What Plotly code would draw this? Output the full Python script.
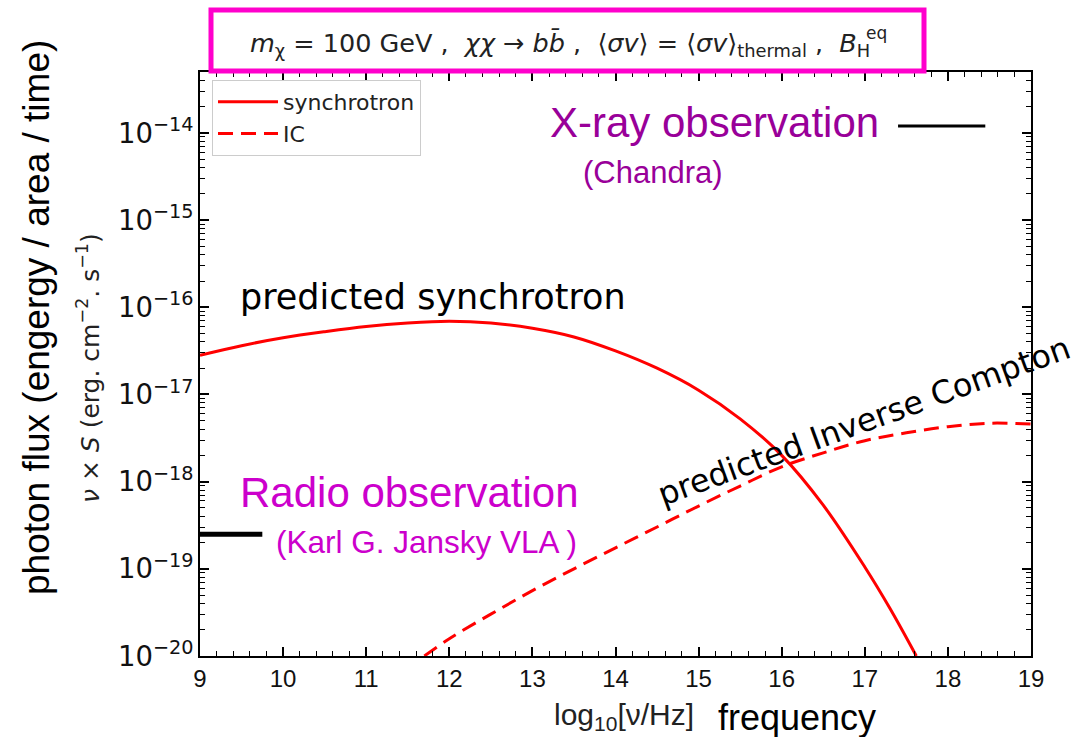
import plotly.graph_objects as go

# log10(nu / Hz) sampling of the predicted spectra
sync_lognu = [9.0, 9.5, 10.0, 10.5, 11.0, 11.5, 12.0, 12.5, 13.0, 13.5, 14.0,
              14.5, 15.0, 15.5, 16.0, 16.5, 17.0, 17.3, 17.62]
sync_flux = [2.82e-17, 3.63e-17, 4.47e-17, 5.25e-17, 6.03e-17, 6.61e-17, 6.92e-17,
             6.61e-17, 5.75e-17, 4.57e-17, 3.16e-17, 2.00e-17, 1.12e-17, 5.25e-18,
             2.00e-18, 5.37e-19, 1.05e-19, 3.55e-20, 1.0e-20]

ic_lognu = [11.7, 12.0, 12.5, 13.0, 13.5, 14.0, 14.5, 15.0, 15.5, 16.0, 16.5,
            17.0, 17.5, 18.0, 18.5, 19.0]
ic_flux = [1.0e-20, 1.58e-20, 3.02e-20, 5.62e-20, 1.0e-19, 1.74e-19, 3.02e-19,
           5.25e-19, 8.91e-19, 1.48e-18, 2.14e-18, 2.95e-18, 3.63e-18, 4.27e-18,
           4.68e-18, 4.57e-18]

# observational limits
radio_lognu = [9.0, 9.75]
radio_flux = [2.5e-19, 2.5e-19]
xray_lognu = [17.4, 18.45]
xray_flux = [1.2e-14, 1.2e-14]

x_ticks = list(range(9, 20))

W, H = 1081, 737
ML, MR, MT, MB = 200, 50, 72, 81
PW, PH = W - ML - MR, H - MT - MB


def fx(p):
    return (p - ML) / PW


def fy(p):
    return (H - MB - p) / PH


fig = go.Figure()
fig.add_trace(go.Scatter(x=sync_lognu, y=sync_flux, mode="lines", name="synchrotron",
                         line=dict(color="#ff0000", width=3, shape="spline")))
fig.add_trace(go.Scatter(x=ic_lognu, y=ic_flux, mode="lines", name="IC",
                         line=dict(color="#ff0000", width=3, dash="15px,8px", shape="spline")))
fig.add_trace(go.Scatter(x=radio_lognu, y=radio_flux, mode="lines", showlegend=False,
                         line=dict(color="black", width=5)))
fig.add_trace(go.Scatter(x=xray_lognu, y=xray_flux, mode="lines", showlegend=False,
                         line=dict(color="black", width=3)))

tickfont_y = dict(family="DejaVu Sans", size=22, color="#111")
tickfont_x = dict(family="Liberation Sans Narrow, Liberation Sans", size=24, color="#111")

fig.update_xaxes(range=[9, 19], tickvals=x_ticks, ticks="inside", ticklen=9, tickwidth=1.5,
                 tickcolor="black", showline=True, linecolor="black", linewidth=2,
                 mirror="allticks", showgrid=False, zeroline=False, tickfont=tickfont_x,
                 minor=dict(dtick=0.2, ticks="inside", ticklen=5, tickcolor="black",
                            tickwidth=1, showgrid=False))
fig.update_yaxes(type="log", range=[-20, -13.301], dtick=1, exponentformat="power",
                 ticks="inside", ticklen=9, tickwidth=1.5, tickcolor="black",
                 showline=True, linecolor="black", linewidth=2, mirror="allticks",
                 showgrid=False, zeroline=False, tickfont=tickfont_y,
                 minor=dict(dtick="D1", ticks="inside", ticklen=5, tickcolor="black",
                            tickwidth=1, showgrid=False))

ann = []


def text(x, y, s, size, color="black", family="Liberation Sans", angle=0, xanchor="center",
         yanchor="middle"):
    ann.append(dict(x=fx(x), y=fy(y), xref="paper", yref="paper", text=s, showarrow=False,
                    font=dict(family=family, size=size, color=color), textangle=angle,
                    xanchor=xanchor, yanchor=yanchor))


# header line of model parameters; the "eq" superscript sits above the H subscript
text(872, 45, "<i>m</i><sub>χ</sub> = 100 GeV ,  <i>χχ</i> → <i>b</i><i>b̄</i> ,  "
     "⟨<i>σv</i>⟩ = ⟨<i>σv</i>⟩<sub>thermal</sub> ,  <i>B</i><sub>H</sub>",
     25.5, color="#222", family="DejaVu Sans", xanchor="right")
text(864, 33, "eq", 17, color="#222", family="DejaVu Sans", xanchor="left")

text(238, 297, "predicted synchrotron", 35, family="DejaVu Sans", xanchor="left")
text(864, 421, "predicted Inverse Compton", 32, family="DejaVu Sans", angle=-20)
text(548, 122, "X-ray observation", 42, color="#990099", xanchor="left")
text(581, 172, "(Chandra)", 31, color="#990099", xanchor="left")
text(238, 492, "Radio observation", 42, color="#cc00cc", xanchor="left")
text(274, 542, "(Karl G. Jansky VLA )", 31.5, color="#cc00cc", xanchor="left")

text(624, 716, "log<sub>10</sub>[ν/Hz]", 30, color="#222",
     family="Liberation Sans Narrow, Liberation Sans")
text(797, 717, "frequency", 36, family="Liberation Sans Narrow, Liberation Sans")
text(88, 368, "<i>ν</i> × <i>S</i> (erg. cm<sup>−2</sup>. s<sup>−1</sup>)", 25, color="#222",
     family="DejaVu Sans", angle=-90)
text(36, 318, "photon flux (engergy / area / time)", 37, angle=-90)

fig.update_layout(
    width=W, height=H,
    margin=dict(l=ML, r=MR, t=MT, b=MB),
    plot_bgcolor="white", paper_bgcolor="white",
    annotations=ann,
    shapes=[dict(type="rect", xref="paper", yref="paper", x0=fx(211), x1=fx(924),
                 y0=fy(71), y1=fy(10), line=dict(color="#ff00cc", width=5))],
    legend=dict(x=fx(212), y=fy(80), xanchor="left", yanchor="top",
                bgcolor="white", bordercolor="#cccccc", borderwidth=1,
                font=dict(family="DejaVu Sans", size=22, color="#222"),
                itemwidth=60, tracegroupgap=0),
    showlegend=True,
)

fig.write_html("out.html")
